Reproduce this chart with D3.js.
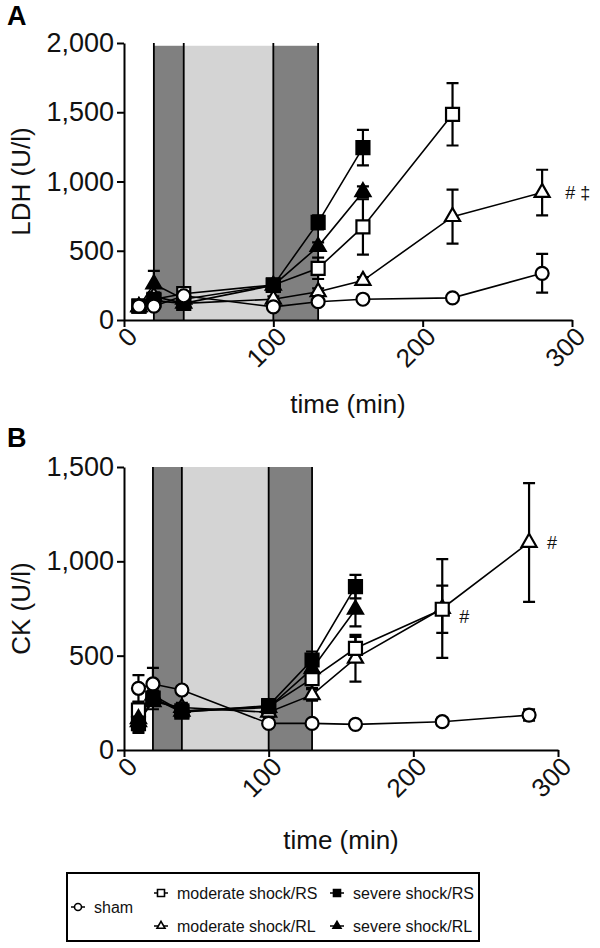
<!DOCTYPE html>
<html><head><meta charset="utf-8">
<script src="https://cdn.jsdelivr.net/npm/d3@7/dist/d3.min.js"></script>
<style>
body{margin:0;background:#fff;}
svg{display:block;font-family:"Liberation Sans",Arial,Helvetica,sans-serif;}
</style></head>
<body>
<svg id="chart" width="600" height="948"></svg>
<script>
// ---------- data ----------
const times = [10, 20, 40, 100, 130, 160, 220, 280];
const seriesNames = ["sham", "moderate shock/RS", "moderate shock/RL", "severe shock/RS", "severe shock/RL"];
const seriesSymbols = ["circle", "square", "triangle", "square", "triangle"];
const seriesFilled = [false, false, false, true, true];

// Panel A: LDH (U/l)
const ldhSham     = [100, 100, 175, 95, 132, 150, 160, 337];
const ldhShamErr  = [15, 20, 20, 15, 15, 15, 15, 140];
const ldhModRS    = [100, 150, 190, 253, 373, 672, 1485, null];
const ldhModRSErr = [15, 30, 30, 25, 77, 200, 225, null];
const ldhModRL    = [95, 170, 120, 150, 204, 285, 746, 920];
const ldhModRLErr = [15, 30, 20, 20, 25, 25, 195, 165];
const ldhSevRS    = [100, 140, 120, 250, 705, 1245, null, null];
const ldhSevRSErr = [15, 30, 20, 25, 50, 128, null, null];
const ldhSevRL    = [95, 260, 150, 250, 530, 925, null, null];
const ldhSevRLErr = [15, 95, 20, 25, 30, 40, null, null];

// Panel B: CK (U/l)
const ckSham      = [327, 350, 318, 141, 141, 136, 150, 185];
const ckShamErr   = [70, 85, 20, 15, 15, 15, 20, 30];
const ckModRS     = [212, 274, 208, 230, 378, 539, 746, null];
const ckModRSErr  = [40, 40, 25, 25, 50, 60, 125, null];
const ckModRL     = [150, 256, 225, 200, 292, 486, 750, 1100];
const ckModRLErr  = [60, 40, 25, 25, 30, 124, 262, 315];
const ckSevRS     = [140, 275, 200, 235, 477, 866, null, null];
const ckSevRSErr  = [40, 40, 25, 25, 45, 62, null, null];
const ckSevRL     = [165, 290, 205, 225, 430, 745, null, null];
const ckSevRLErr  = [50, 40, 25, 25, 45, 90, null, null];

// phases (time in min)
const phaseStarts = [20, 40, 100];
const phaseEnds   = [40, 100, 130];
const phaseKinds  = ["dark", "light", "dark"];
const phaseBorders = [20, 40, 100, 130];

const xTicks = [0, 100, 200, 300];
const ldhTicks = [0, 500, 1000, 1500, 2000];
const ckTicks = [0, 500, 1000, 1500];

// ---------- drawing ----------
const svg = d3.select("#chart");
const fmt = d3.format(",");

const panels = [
  {label: "A", ylabel: "LDH (U/l)", xr: [124, 572], yr: [320, 43], ymax: 2000, shadeTop: 1980, yticks: ldhTicks,
   labelY: 25, titleY: 413,
   series: [[ldhSham, ldhShamErr], [ldhModRS, ldhModRSErr], [ldhModRL, ldhModRLErr], [ldhSevRS, ldhSevRSErr], [ldhSevRL, ldhSevRLErr]],
   notes: [{t: 280, v: 920, text: "#  \u2021", dx: 23}]},
  {label: "B", ylabel: "CK (U/l)", xr: [124, 558], yr: [750, 467], ymax: 1500, shadeTop: 1500, yticks: ckTicks,
   labelY: 447, titleY: 849,
   series: [[ckSham, ckShamErr], [ckModRS, ckModRSErr], [ckModRL, ckModRLErr], [ckSevRS, ckSevRSErr], [ckSevRL, ckSevRLErr]],
   notes: [{t: 280, v: 1100, text: "#", dx: 18}, {t: 220, v: 746, text: "#", dx: 17, dv: -40}]}
];

function symbolPath(type, s) {
  if (type === "circle") return d3.symbol(d3.symbolCircle, Math.PI * s * s / 4)();
  if (type === "square") { const h = s / 2; return `M${-h},${-h}H${h}V${h}H${-h}Z`; }
  const h = s * Math.sqrt(3) / 2;
  return `M0,${-h * 2 / 3}L${s / 2},${h / 3}L${-s / 2},${h / 3}Z`;
}

const drawOrder = [2, 1, 4, 3, 0];

panels.forEach(p => {
  const x = d3.scaleLinear().domain([0, 300]).range(p.xr);
  const y = d3.scaleLinear().domain([0, p.ymax]).range(p.yr);
  const g = svg.append("g");

  // shading
  phaseStarts.forEach((s, i) => {
    g.append("rect")
      .attr("x", x(s)).attr("width", x(phaseEnds[i]) - x(s))
      .attr("y", y(p.shadeTop)).attr("height", y(0) - y(p.shadeTop))
      .attr("fill", phaseKinds[i] === "dark" ? "#808080" : "#d4d4d4");
  });
  phaseBorders.forEach(b => {
    g.append("line").attr("x1", x(b)).attr("x2", x(b))
      .attr("y1", y(0)).attr("y2", y(p.ymax))
      .attr("stroke", "#000").attr("stroke-width", 1.8);
  });

  // axes
  const xa = g.append("g").attr("transform", `translate(0,${y(0)})`)
    .call(d3.axisBottom(x).tickValues(xTicks).tickSize(7).tickSizeOuter(0).tickFormat(d3.format("d")));
  xa.selectAll("text").attr("font-size", 26).attr("fill", "#111")
    .attr("text-anchor", "end").attr("dy", null)
    .attr("transform", "translate(8,12) rotate(-45)")
    .attr("y", 0).attr("x", 0).attr("dominant-baseline", "central");
  const ya = g.append("g").attr("transform", `translate(${x(0)},0)`)
    .call(d3.axisLeft(y).tickValues(p.yticks).tickSize(7).tickSizeOuter(0).tickFormat(fmt));
  ya.selectAll("text").attr("font-size", 27).attr("fill", "#111").attr("x", -10);
  [xa, ya].forEach(a => {
    a.select(".domain").attr("stroke-width", 2).attr("stroke", "#000");
    a.selectAll(".tick line").attr("stroke-width", 2).attr("stroke", "#000");
    a.attr("font-family", null);
  });

  // titles
  g.append("text").attr("x", (p.xr[0] + p.xr[1]) / 2).attr("y", p.titleY)
    .attr("text-anchor", "middle").attr("font-size", 26).attr("fill", "#111").text("time (min)");
  g.append("text").attr("transform", `translate(30,${(p.yr[0] + p.yr[1]) / 2}) rotate(-90)`)
    .attr("text-anchor", "middle").attr("font-size", 26).attr("fill", "#111").text(p.ylabel);
  g.append("text").attr("x", 7).attr("y", p.labelY).attr("font-size", 27).attr("font-weight", "bold").text(p.label);

  // series
  const line = d3.line().defined(d => d.v != null).x(d => x(d.t)).y(d => y(d.v));
  const data = p.series.map(([vals, errs]) => times.map((t, i) => ({t, v: vals[i], e: errs[i]})).filter(d => d.v != null));
  drawOrder.forEach(si => {
    g.append("path").datum(data[si]).attr("d", line)
      .attr("fill", "none").attr("stroke", "#000").attr("stroke-width", 1.6);
  });
  drawOrder.forEach(si => {
    data[si].forEach(d => {
      if (!d.e) return;
      const cx = x(d.t), cw = 6;
      g.append("path")
        .attr("d", `M${cx},${y(d.v + d.e)}V${y(d.v - d.e)}M${cx - cw},${y(d.v + d.e)}H${cx + cw}M${cx - cw},${y(d.v - d.e)}H${cx + cw}`)
        .attr("stroke", "#000").attr("stroke-width", 2.2).attr("fill", "none");
    });
  });
  drawOrder.forEach(si => {
    g.selectAll(null).data(data[si]).enter().append("path")
      .attr("transform", d => `translate(${x(d.t)},${y(d.v)})`)
      .attr("d", symbolPath(seriesSymbols[si], seriesSymbols[si] === "triangle" ? 15 : 13))
      .attr("fill", seriesFilled[si] ? "#000" : "#fff")
      .attr("stroke", "#000").attr("stroke-width", 2.2);
  });

  p.notes.forEach(n => {
    g.append("text").attr("x", x(n.t) + n.dx).attr("y", y(n.v + (n.dv || 0)))
      .attr("dy", "0.35em").attr("font-size", 18).attr("fill", "#111").text(n.text);
  });
});

// legend
const lg = svg.append("g");
lg.append("rect").attr("x", 67).attr("y", 873).attr("width", 412).attr("height", 68)
  .attr("fill", "#fff").attr("stroke", "#000").attr("stroke-width", 2);
const legendX = [78, 161, 161, 337, 337];
const legendY = [907, 893, 926, 893, 926];
seriesNames.forEach((name, i) => {
  const cx = legendX[i], cy = legendY[i];
  lg.append("line").attr("x1", cx - 7).attr("x2", cx + 7).attr("y1", cy).attr("y2", cy)
    .attr("stroke", "#000").attr("stroke-width", 1.5);
  lg.append("path").attr("transform", `translate(${cx},${cy})`)
    .attr("d", symbolPath(seriesSymbols[i], seriesSymbols[i] === "triangle" ? 8 : 7))
    .attr("fill", seriesFilled[i] ? "#000" : "#fff").attr("stroke", "#000").attr("stroke-width", 1.6);
  lg.append("text").attr("x", cx + 16).attr("y", cy).attr("dy", "0.35em")
    .attr("font-size", 16).attr("fill", "#111").text(name);
});
</script>
</body></html>
